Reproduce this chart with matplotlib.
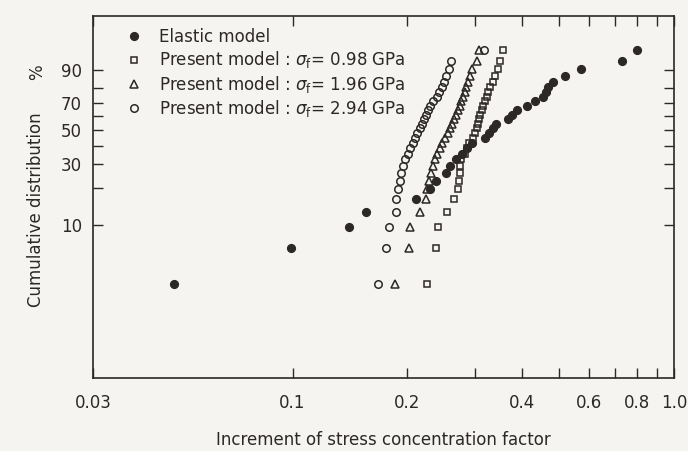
import numpy as np
import matplotlib
matplotlib.use("Agg")
import matplotlib.pyplot as plt
from matplotlib.ticker import FixedLocator, FixedFormatter, NullFormatter

# Rangs cumulés (%) communs aux quatre séries (30 points chacune)
cum_pct = [3.23, 6.45, 9.68, 12.90, 16.13, 19.35, 22.58, 25.81, 29.03, 32.26,
           35.48, 38.71, 41.94, 45.16, 48.39, 51.61, 54.84, 58.06, 61.29, 64.52,
           67.74, 70.97, 74.19, 77.42, 80.65, 83.87, 87.10, 90.32, 93.55, 96.77]

elastic = [0.049, 0.099, 0.141, 0.156, 0.211, 0.229, 0.238, 0.253, 0.259, 0.268,
           0.278, 0.287, 0.296, 0.320, 0.327, 0.335, 0.342, 0.367, 0.376, 0.388,
           0.412, 0.432, 0.454, 0.462, 0.468, 0.482, 0.518, 0.571, 0.731, 0.800]

present_098 = [0.2256, 0.2373, 0.2400, 0.2534, 0.2651, 0.2716, 0.2733, 0.2741, 0.2749, 0.2766,
               0.2833, 0.2868, 0.2894, 0.2973, 0.3010, 0.3036, 0.3055, 0.3083, 0.3101, 0.3129,
               0.3158, 0.3196, 0.3225, 0.3254, 0.3294, 0.3354, 0.3395, 0.3447, 0.3489, 0.3563]

present_196 = [0.1856, 0.2017, 0.2033, 0.2159, 0.2232, 0.2252, 0.2279, 0.2307, 0.2335, 0.2363,
               0.2392, 0.2429, 0.2466, 0.2511, 0.2557, 0.2588, 0.2620, 0.2651, 0.2684, 0.2708,
               0.2741, 0.2766, 0.2799, 0.2825, 0.2850, 0.2876, 0.2911, 0.2956, 0.3036, 0.3083]

present_294 = [0.1673, 0.1755, 0.1793, 0.1867, 0.1873, 0.1890, 0.1913, 0.1930, 0.1948, 0.1972,
               0.2002, 0.2033, 0.2064, 0.2095, 0.2121, 0.2153, 0.2179, 0.2205, 0.2232, 0.2265,
               0.2293, 0.2328, 0.2385, 0.2421, 0.2458, 0.2495, 0.2526, 0.2565, 0.2604, 0.3177]

x_major = [0.03, 0.1, 0.2, 0.4, 0.6, 0.8, 1.0]
x_labels = ["0.03", "0.1", "0.2", "0.4", "0.6", "0.8", "1.0"]
x_minor = [0.3, 0.5, 0.7, 0.9]
y_major = [10, 30, 50, 70, 90]
y_labels = ["10", "30", "50", "70", "90"]
y_minor = [20, 40, 60, 80]

INK = "#2b2826"
BG = "#f6f4f1"


# Échelle de Weibull : ln(-ln(1 - F))
def weibull_fwd(p):
    p = np.clip(np.asarray(p, dtype=float), 1e-6, 100 - 1e-6)
    return np.log(-np.log(1 - p / 100.0))


def weibull_inv(w):
    return 100.0 * (1 - np.exp(-np.exp(w)))


plt.rcParams["font.family"] = ["DejaVu Sans"]

fig = plt.figure(figsize=(6.88, 4.51), dpi=100, facecolor=BG)
ax = fig.add_axes([0.1352, 0.1608, 0.8445, 0.8048])
ax.set_facecolor(BG)

ax.set_xscale("log")
ax.set_yscale("function", functions=(weibull_fwd, weibull_inv))
ax.set_xlim(0.03, 1.0)
ax.set_ylim(0.5, 99.89)

ax.plot(elastic, cum_pct, "o", ms=5.6, color=INK, mec=INK, label="Elastic model")
ax.plot(present_098, cum_pct, "s", ms=4.8, mfc="none", mec=INK, mew=1.1,
        label=r"Present model : $\sigma_{\rm f}$= 0.98 GPa")
ax.plot(present_196, cum_pct, "^", ms=5.4, mfc="none", mec=INK, mew=1.1,
        label=r"Present model : $\sigma_{\rm f}$= 1.96 GPa")
ax.plot(present_294, cum_pct, "o", ms=5.4, mfc="none", mec=INK, mew=1.1,
        label=r"Present model : $\sigma_{\rm f}$= 2.94 GPa")

ax.xaxis.set_major_locator(FixedLocator(x_major))
ax.xaxis.set_major_formatter(FixedFormatter(x_labels))
ax.xaxis.set_minor_locator(FixedLocator(x_minor))
ax.xaxis.set_minor_formatter(NullFormatter())
ax.yaxis.set_major_locator(FixedLocator(y_major))
ax.yaxis.set_major_formatter(FixedFormatter(y_labels))
ax.yaxis.set_minor_locator(FixedLocator(y_minor))
ax.yaxis.set_minor_formatter(NullFormatter())

ax.tick_params(which="both", direction="in", top=True, right=True,
               length=7, width=1.0, color=INK, labelcolor=INK, labelsize=12)
ax.tick_params(axis="x", which="major", pad=11)
ax.tick_params(axis="y", which="major", pad=8)

for s in ax.spines.values():
    s.set_color(INK)
    s.set_linewidth(1.2)

ax.set_xlabel("Increment of stress concentration factor", fontsize=12,
              color=INK, labelpad=14)
ax.set_ylabel("Cumulative distribution", fontsize=12, color=INK)
ax.yaxis.set_label_coords(-0.082, 0.464)
fig.text(0.054, 0.84, "%", rotation=90, fontsize=12, color=INK,
         ha="center", va="center")

ax.legend(loc="upper left", bbox_to_anchor=(0.02, 1.0), frameon=False,
          fontsize=12, handletextpad=0.5, labelspacing=0.2,
          borderaxespad=0.35, labelcolor=INK)

fig.savefig("out.png", dpi=100, facecolor=BG)
